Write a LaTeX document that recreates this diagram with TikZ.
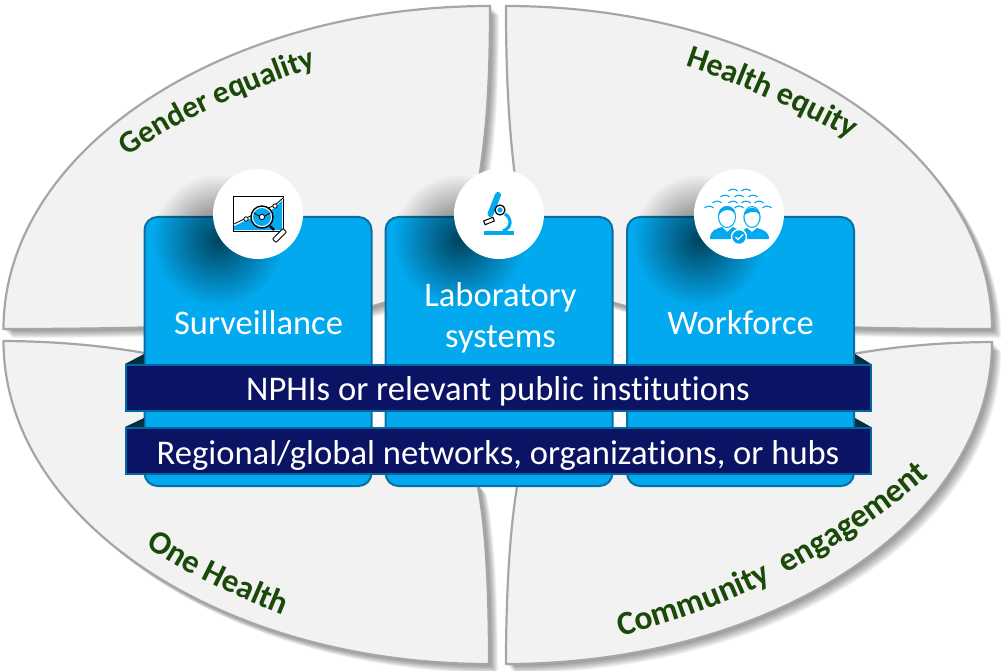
\documentclass[tikz,border=0pt]{standalone}
\usepackage{fontspec}
\setmainfont[Ligatures=NoCommon]{Carlito}
\usetikzlibrary{fadings,decorations.text}
\definecolor{pfill}{HTML}{F2F2F2}
\definecolor{pline}{HTML}{A6A6A6}
\definecolor{cardf}{HTML}{03A9EE}
\definecolor{cardl}{HTML}{0A6FA5}
\definecolor{barf}{HTML}{0B1464}
\definecolor{barl}{HTML}{02679E}
\definecolor{fold}{HTML}{032D40}
\definecolor{lab}{HTML}{1B4A08}
\tikzfading[name=blob, inner color=transparent!40, outer color=transparent!100]
\tikzset{
  piece/.style={fill=pfill,draw=pline,line width=2.2pt,line join=miter},
  card/.style={rectangle,rounded corners=13pt,fill=cardf,draw=cardl,line width=2pt,minimum width=227pt,minimum height=269pt,inner sep=0pt},
  bar/.style={rectangle,fill=barf,draw=barl,line width=2pt,minimum width=745pt,minimum height=46pt,inner sep=0pt,text=white,font=\fontsize{34.6}{36}\selectfont},
  cardtext/.style={text=white,font=\fontsize{34.5}{41}\selectfont,align=center,inner sep=0pt},
  disc/.style={circle,fill=white,minimum size=90pt,inner sep=0pt},
  curved/.style={decorate,decoration={text along path,text align=left}},
}
\def\pTL{(490,6) .. controls (490,80) and (487,130) .. (478,185) .. controls (465,250) and (430,290) .. (380,304) .. controls (320,322) and (200,329) .. (3.5,329) .. controls (3.5,151) and (221,6) .. (490,6) -- cycle}
\def\pTR{(506,6) .. controls (506,80) and (509,130) .. (516,185) .. controls (530,250) and (565,290) .. (618,304) .. controls (680,322) and (800,329) .. (992,329) .. controls (992,151) and (774,6) .. (506,6) -- cycle}
\def\pBL{(489,664) .. controls (489,590) and (486,530) .. (478,487) .. controls (465,465) and (420,450) .. (380,437) .. controls (300,400) and (200,342) .. (3.5,341) .. controls (3.5,519) and (220,664) .. (489,664) -- cycle}
\def\pBR{(506,664) .. controls (506,590) and (510,530) .. (517,487) .. controls (530,465) and (575,450) .. (618,437) .. controls (700,400) and (800,343) .. (992,342) .. controls (992,520) and (775,664) .. (506,664) -- cycle}
\begin{document}
\begin{tikzpicture}[x=1pt,y=-1pt]
\useasboundingbox (0,0) rectangle (1001,671);
% piece shadows
\foreach \k in {1,...,10}{
  \fill[black,opacity=0.05,shift={(\k*0.9,\k*0.9)}] \pTL;
  \fill[black,opacity=0.05,shift={(\k*0.9,\k*0.9)}] \pTR;
  \fill[black,opacity=0.05,shift={(\k*0.9,\k*0.9)}] \pBL;
  \fill[black,opacity=0.05,shift={(\k*0.9,\k*0.9)}] \pBR;
}
\path[piece] \pTL;
\path[piece] \pTR;
\path[piece] \pBL;
\path[piece] \pBR;
% curved labels
\path[curved,decoration={text={|\fontsize{31.4}{33}\selectfont\bfseries\color{lab}|Gender equality}}] (128,157) .. controls (175,122) and (240,92) .. (330,62);
\path[curved,decoration={text={|\fontsize{32.2}{33}\selectfont\bfseries\color{lab}|Health equity}}] (685,66) .. controls (740,84) and (795,108) .. (870,150);
\path[curved,decoration={text={|\fontsize{32.8}{33}\selectfont\bfseries\color{lab}|One Health}}] (146,546) .. controls (190,576) and (238,598) .. (305,624);
\path[curved,decoration={text={|\fontsize{33.6}{34}\selectfont\bfseries\color{lab}|Community{ }{ }engagement}}] (620,636) .. controls (730,610) and (850,550) .. (950,458);
% cards
\node[card] (c1) at (258,351.5) {};
\node[card] (c2) at (499,351.5) {};
\node[card] (c3) at (740.5,351.5) {};
% circle shadows
\foreach \cx in {218,459,699}{
  \fill[black,path fading=blob] (\cx,240) circle (66);
}
% folds
\coordinate (f1a) at (125,364); \coordinate (f1b) at (144,354); \coordinate (f1c) at (144,364);
\coordinate (f2a) at (125,427); \coordinate (f2b) at (144,418); \coordinate (f2c) at (144,427);
\coordinate (f3a) at (871,364); \coordinate (f3b) at (855,354); \coordinate (f3c) at (855,364);
\coordinate (f4a) at (871,427); \coordinate (f4b) at (855,418); \coordinate (f4c) at (855,427);
\fill[fold] (f1a)--(f1b)--(f1c)--cycle;
\fill[fold] (f2a)--(f2b)--(f2c)--cycle;
\fill[fold] (f3a)--(f3b)--(f3c)--cycle;
\fill[fold] (f4a)--(f4b)--(f4c)--cycle;
% bars
\node[bar,text height=25pt,text depth=0pt] (b1) at (498,387.5) {NPHIs or relevant public institutions};
\node[bar,text height=27pt,text depth=0pt] (b2) at (498,450.5) {Regional/global networks, organizations, or hubs};
% card texts
\node[cardtext] (t1) at (258.5,323) {Surveillance};
\node[cardtext] (t2) at (500.5,317.5) {Laboratory\\systems};
\node[cardtext] (t3) at (740.5,323) {Workforce};
% discs
\node[disc] (d1) at (258,214) {};
\node[disc] (d2) at (499,214) {};
\node[disc] (d3) at (739,214) {};
% surveillance icon
\fill[cardf] (234,230) -- (234,226) -- (247,220) -- (262,214) -- (275,208) -- (282,200) -- (282,230) -- cycle;
\draw[black,line width=1pt] (233,197) rectangle (283,231);
\draw[white,line width=1.6pt] (234,225) -- (246,219) -- (262,212) -- (275,206) -- (283,198);
\draw[black,line width=.8pt] (234,224) -- (246,218) -- (262,211) -- (275,205) -- (283,198);
\fill[white,draw=black,line width=.8pt] (246,219) circle (2.2);
\fill[white,draw=black,line width=.8pt] (275,206) circle (2.2);
\fill[white] (262,217) circle (11);
\fill[cardf] (262,217) circle (9);
\draw[black,line width=1.4pt] (262,217) circle (11);
\draw[black,line width=.9pt] (254,213) -- (259,216) (270,213) -- (265,216);
\fill[white,draw=black,line width=.8pt] (262,217) circle (2.6);
\draw[black,line width=2.4pt] (270,226) -- (274,230);
\draw[black,line width=.9pt,fill=white,rounded corners=1pt,rotate around={45:(279.5,235.5)}] (272,233) rectangle (287,238);
% microscope icon
\draw[cardf,line width=6pt,line cap=round] (498,195) -- (490.5,214);
\draw[cardf,line width=3.2pt] (505,214) .. controls (512,218) and (512,228) .. (503,231);
\fill[white,draw=black,line width=1.2pt] (500,210) circle (5);
\fill[cardf] (500,210) circle (2.6);
\draw[black,fill=white,line width=1pt,rotate around={22:(489,221)}] (484,219) rectangle (494,223);
\fill[cardf] (484,231) rectangle (514,235);
% workforce icon
\foreach \ax/\ay in {733/190,746/190,725/196,739/196,753/196,717/202,733/202,746/202,759/202,709/207,739/207,767/207}{
  \draw[cardf,line width=1.1pt] (\ax-4.5,\ay+1) .. controls (\ax-2,\ay-1.5) and (\ax+2,\ay-1.5) .. (\ax+4.5,\ay+1);
}
\fill[cardf] (710,239) .. controls (710,230) and (716,229) .. (722,227) -- (727,232) -- (733,227) .. controls (738,229) and (741,232) .. (741,239) -- cycle;
\fill[cardf] (741,239) .. controls (741,232) and (744,229) .. (747,228) -- (752,232) -- (757,228) .. controls (764,230) and (769,232) .. (769,239) -- cycle;
\fill[white,draw=cardf,line width=1pt] (727,217) ellipse (8.5 and 10.5);
\fill[cardf] (718.5,216) .. controls (717,203) and (737,203) .. (735.5,216) .. controls (734,208) and (722,208) .. (718.5,216) -- cycle;
\fill[white,draw=cardf,line width=1pt] (752,217) ellipse (8 and 10.5);
\fill[cardf] (744,222) .. controls (740,203) and (764,203) .. (760,222) .. controls (762,210) and (752,210) .. (744,215) -- cycle;
\fill[cardf,draw=white,line width=1.4pt] (739,237) circle (7.5);
\draw[white,line width=1.3pt] (735.5,237) -- (738,239.5) -- (743,234.5);
\end{tikzpicture}
\end{document}
